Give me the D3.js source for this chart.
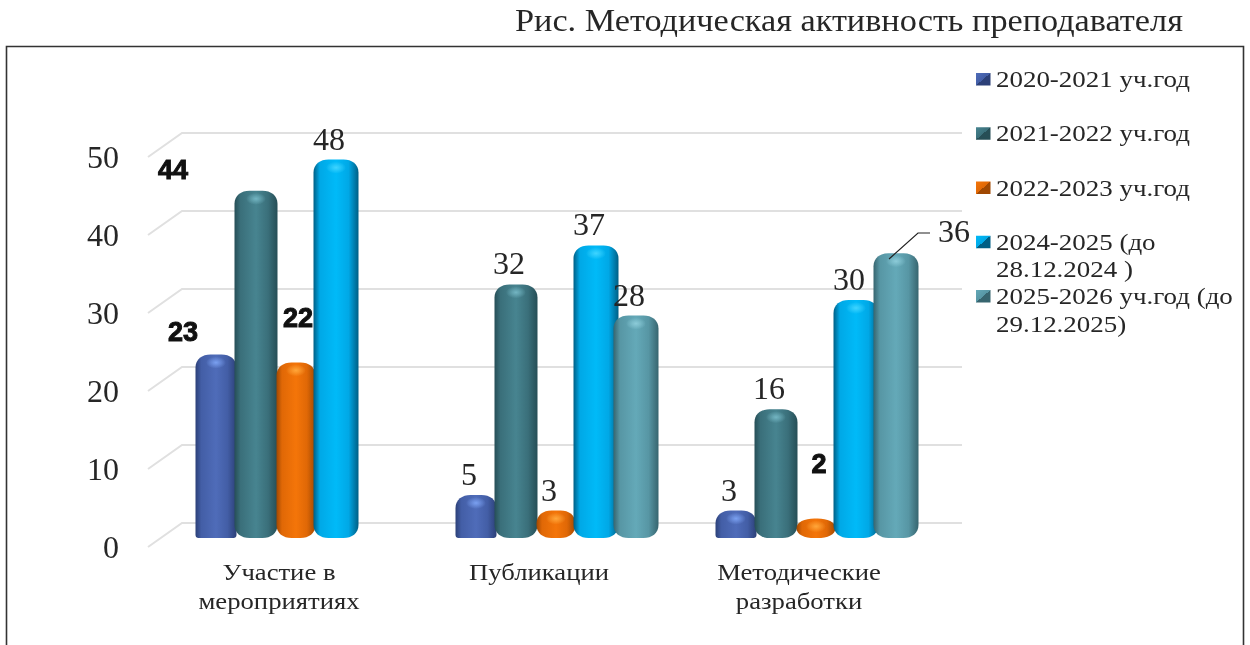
<!DOCTYPE html>
<html><head><meta charset="utf-8">
<script src="https://cdn.jsdelivr.net/npm/d3@7"></script>
<style>
html,body{margin:0;padding:0;background:#fff;overflow:hidden}
svg{display:block;filter:blur(.45px)}
text{font-family:"Liberation Serif",serif;fill:#262626}
</style></head><body><svg id="c" width="1250" height="645"></svg>
<script>
const title = "Рис. Методическая активность преподавателя";
const categories = ["Участие в мероприятиях","Публикации","Методические разработки"];
const categoryLines = [["Участие в","мероприятиях"],["Публикации"],["Методические","разработки"]];
const seriesNames = ["2020-2021 уч.год","2021-2022 уч.год","2022-2023 уч.год","2024-2025 (до 28.12.2024 )","2025-2026 уч.год (до 29.12.2025)"];
const legendLines = [["2020-2021 уч.год"],["2021-2022 уч.год"],["2022-2023 уч.год"],["2024-2025 (до","28.12.2024 )"],["2025-2026 уч.год (до","29.12.2025)"]];
const s2020 = [23,5,3];
const s2021 = [44,32,16];
const s2022 = [22,3,2];
const s2024 = [48,37,30];
const s2025 = [null,28,36];
const allSeries = [s2020,s2021,s2022,s2024,s2025];
const yTicks = [0,10,20,30,40,50];

// styling
const palette = [
 {edge:"#2c4078",mid:"#435ea6",light:"#4f6cb9",hi:"#7aa0f0"},
 {edge:"#264e56",mid:"#3a6f7a",light:"#478490",hi:"#73b5c2"},
 {edge:"#a04802",mid:"#e06806",light:"#f47509",hi:"#ffa63a"},
 {edge:"#005f85",mid:"#00a8e6",light:"#00baf8",hi:"#3fd4ff"},
 {edge:"#37656f",mid:"#5796a4",light:"#64a9b8",hi:"#8ccbd8"}];
const barWidths = [41,43,39,45,45];
const boldLabels = {"1-0":[173,179],"0-0":[183,341],"2-0":[298,327],"2-2":[819,473]};

const svg = d3.select("#c");
const defs = svg.append("defs");
palette.forEach((p,i)=>{
  const g = defs.append("linearGradient").attr("id","bar"+i);
  [[0,p.edge],[.14,p.mid],[.5,p.light],[.78,p.mid],[1,p.edge]].forEach(([o,c])=>g.append("stop").attr("offset",o).attr("stop-color",c));
  const h = defs.append("radialGradient").attr("id","hi"+i);
  h.append("stop").attr("offset",0).attr("stop-color",p.hi);
  h.append("stop").attr("offset",1).attr("stop-color",p.hi).attr("stop-opacity",0);
  const s = defs.append("linearGradient").attr("id","sw"+i).attr("x1",0).attr("y1",0).attr("x2",1).attr("y2",1);
  [[0,p.light],[.5,p.mid],[.5,p.edge],[1,p.edge]].forEach(([o,c])=>s.append("stop").attr("offset",o).attr("stop-color",c));
});

function stretched(sel,x,y,k,text,size,anchor){
  return sel.append("text").text(text).attr("transform",`translate(${x},${y}) scale(${k},1)`)
    .attr("font-size",size).attr("text-anchor",anchor||"start");
}

// frame
svg.append("path").attr("d","M6.5,645V46.5H1243.5V645").attr("fill","none").attr("stroke","#333").attr("stroke-width",1.6);
stretched(svg,515,31,1.071,title,32);

const yFront = d3.scaleLinear().domain([0,50]).range([547,157]);
const depthX = 34, depthY = -24, barBase = 538, barLift = -13;
const x0 = d3.scaleBand().domain(categories).range([65,845]);   // groups 260 wide
const x1 = d3.scaleBand().domain(seriesNames).range([130,330]); // bars 40 wide inside a group

// grid
const grid = svg.append("g").attr("stroke","#e0e0e0").attr("stroke-width",2).attr("fill","none");
yTicks.forEach(t=>{
  const y=yFront(t);
  grid.append("path").attr("d",`M148,${y}L${148+depthX},${y+depthY}H962`);
});

// y axis labels
const axis = svg.append("g").attr("transform","translate(119,0)")
  .call(d3.axisLeft(yFront).tickValues(yTicks).tickSize(0).tickPadding(0));
axis.select(".domain").remove();
axis.selectAll("text").style("font-family","'Liberation Serif',serif").style("font-size","32px").style("fill","#262626")
  .attr("dy","0.32em").attr("x",0);

function barPath(x,w,top,bot,rt,rb){
  const h=bot-top;
  rt=Math.min(rt,h*.5); rb=Math.min(rb,h*.5);
  const rxT=h<24?w*.46:15, rxB=(rb<5)?3:(h<24?w*.46:15);
  return `M${x},${top+rt}C${x},${top+rt*.35} ${x+rxT*.45},${top} ${x+rxT},${top}`+
    `H${x+w-rxT}C${x+w-rxT*.45},${top} ${x+w},${top+rt*.35} ${x+w},${top+rt}`+
    `V${bot-rb}C${x+w},${bot-rb*.35} ${x+w-rxB*.45},${bot} ${x+w-rxB},${bot}`+
    `H${x+rxB}C${x+rxB*.45},${bot} ${x},${bot-rb*.35} ${x},${bot-rb}Z`;
}

// bars
const bars = svg.append("g");
const labels = svg.append("g");
seriesNames.forEach((name,si)=>{
  allSeries[si].forEach((v,ci)=>{
    if(v==null) return;
    const cx = x0(categories[ci]) + x1(name) + 21;
    const w = barWidths[si];
    const x = cx-w/2;
    const top = yFront(v)+barLift;
    const h = barBase-top;
    bars.append("path").attr("d",barPath(x,w,top,barBase,13,si===0?3:13)).attr("fill",`url(#bar${si})`);
    bars.append("ellipse").attr("cx",cx).attr("cy",top+Math.min(8,h/2)).attr("rx",10).attr("ry",Math.min(6,h/3)).attr("fill",`url(#hi${si})`);
    const bold = boldLabels[si+"-"+ci];
    if(bold){
      labels.append("text").text(v).attr("x",bold[0]).attr("y",bold[1]).attr("text-anchor","middle")
        .attr("font-size",27).attr("font-weight",700).style("font-family","'Liberation Sans',sans-serif").style("fill","#111")
        .attr("stroke","#111").attr("stroke-width",1);
    } else if(si===4 && ci===2){
      stretched(labels,954,242,1,v,32,"middle");
      labels.append("path").attr("d",`M889,259L918,233H930`).attr("fill","none").attr("stroke","#222").attr("stroke-width",1.2);
    } else {
      stretched(labels,cx-7,top-10,1,v,32,"middle");
    }
  });
});

// category labels
categories.forEach((c,ci)=>{
  const cx = x0(c)+x1.range()[0]+84;
  categoryLines[ci].forEach((t,li)=>{
    stretched(svg,cx,580+li*29,1.16,t,23,"middle");
  });
});

// legend
const legendY = d3.scalePoint().domain(seriesNames).range([79,296]);
seriesNames.forEach((name,i)=>{
  const y=legendY(name);
  svg.append("rect").attr("x",976).attr("y",y-6).attr("width",14.5).attr("height",12.5).attr("fill",`url(#sw${i})`);
  legendLines[i].forEach((t,li)=>{
    stretched(svg,996,y+8+li*27.5,1.147,t,23.5);
  });
});
</script></body></html>
